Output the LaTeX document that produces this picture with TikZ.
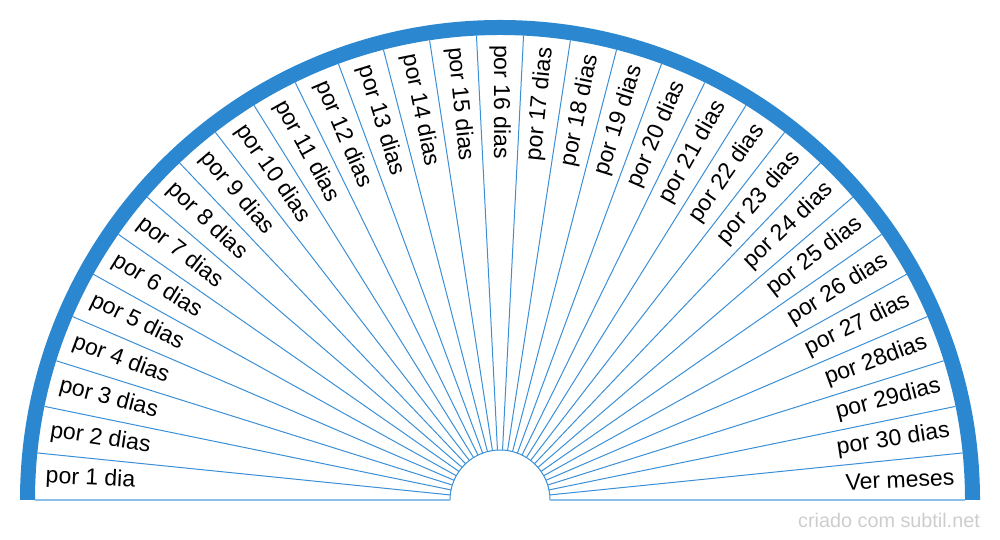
\documentclass[tikz,border=0pt]{standalone}
\usepackage{fontspec}
\setmainfont{Liberation Sans}
\usetikzlibrary{calc}
\definecolor{bandblue}{RGB}{43,136,208}
\definecolor{rayblue}{RGB}{58,143,214}
\definecolor{baseblue}{RGB}{140,192,234}
\definecolor{markgray}{RGB}{205,205,205}

\begin{document}
\begin{tikzpicture}[x=1pt, y=1pt,
  band/.style={fill=bandblue},
  ray/.style={draw=rayblue, line width=1pt},
  base/.style={draw=baseblue, line width=2pt},
  lbl/.style={font=\fontsize{23}{26}\selectfont, text=black, inner sep=0pt},
  lblL/.style={lbl, anchor=west},
  lblR/.style={lbl, anchor=east},
  credittext/.style={font=\fontsize{19.8}{23}\selectfont, text=markgray, anchor=east, inner sep=0pt},
]
  \useasboundingbox (0,0) rectangle (1000,540);
  \coordinate (c) at (500,40);

  % outer band
  \fill[band] ($(c)+(-480,0)$) arc[start angle=180, end angle=0, radius=480]
    -- ++(-15,0) arc[start angle=0, end angle=180, radius=465] -- cycle;

  % rays and hub
  \foreach \k in {1,...,30}
    \draw[ray] ($(c)+(\k*180/31:50)$) -- ($(c)+(\k*180/31:465)$);
  \draw[ray] ($(c)+(50,0)$) arc[start angle=0, end angle=180, radius=50];
  \draw[base] ($(c)+(-465,0)$) -- ($(c)+(-50,0)$);
  \draw[base] ($(c)+(50,0)$) -- ($(c)+(465,0)$);

  \node[lblL, rotate=-2.90] (d1) at ($(c)+(177.10:455)$) {por 1 dia};
  \node[lblL, rotate=-8.71] (d2) at ($(c)+(171.29:455)$) {por 2 dias};
  \node[lblL, rotate=-14.52] (d3) at ($(c)+(165.48:455)$) {por 3 dias};
  \node[lblL, rotate=-20.32] (d4) at ($(c)+(159.68:455)$) {por 4 dias};
  \node[lblL, rotate=-26.13] (d5) at ($(c)+(153.87:455)$) {por 5 dias};
  \node[lblL, rotate=-31.94] (d6) at ($(c)+(148.06:455)$) {por 6 dias};
  \node[lblL, rotate=-37.74] (d7) at ($(c)+(142.26:455)$) {por 7 dias};
  \node[lblL, rotate=-43.55] (d8) at ($(c)+(136.45:455)$) {por 8 dias};
  \node[lblL, rotate=-49.35] (d9) at ($(c)+(130.65:455)$) {por 9 dias};
  \node[lblL, rotate=-55.16] (d10) at ($(c)+(124.84:455)$) {por 10 dias};
  \node[lblL, rotate=-60.97] (d11) at ($(c)+(119.03:455)$) {por 11 dias};
  \node[lblL, rotate=-66.77] (d12) at ($(c)+(113.23:455)$) {por 12 dias};
  \node[lblL, rotate=-72.58] (d13) at ($(c)+(107.42:455)$) {por 13 dias};
  \node[lblL, rotate=-78.39] (d14) at ($(c)+(101.61:455)$) {por 14 dias};
  \node[lblL, rotate=-84.19] (d15) at ($(c)+(95.81:455)$) {por 15 dias};
  \node[lblL, rotate=-90] (d16) at ($(c)+(90:455)$) {por 16 dias};
  \node[lblR, rotate=84.19] (d17) at ($(c)+(84.19:455)$) {por 17 dias};
  \node[lblR, rotate=78.39] (d18) at ($(c)+(78.39:455)$) {por 18 dias};
  \node[lblR, rotate=72.58] (d19) at ($(c)+(72.58:455)$) {por 19 dias};
  \node[lblR, rotate=66.77] (d20) at ($(c)+(66.77:455)$) {por 20 dias};
  \node[lblR, rotate=60.97] (d21) at ($(c)+(60.97:455)$) {por 21 dias};
  \node[lblR, rotate=55.16] (d22) at ($(c)+(55.16:455)$) {por 22 dias};
  \node[lblR, rotate=49.35] (d23) at ($(c)+(49.35:455)$) {por 23 dias};
  \node[lblR, rotate=43.55] (d24) at ($(c)+(43.55:455)$) {por 24 dias};
  \node[lblR, rotate=37.74] (d25) at ($(c)+(37.74:455)$) {por 25 dias};
  \node[lblR, rotate=31.94] (d26) at ($(c)+(31.94:455)$) {por 26 dias};
  \node[lblR, rotate=26.13] (d27) at ($(c)+(26.13:455)$) {por 27 dias};
  \node[lblR, rotate=20.32] (d28) at ($(c)+(20.32:455)$) {por 28dias};
  \node[lblR, rotate=14.52] (d29) at ($(c)+(14.52:455)$) {por 29dias};
  \node[lblR, rotate=8.71] (d30) at ($(c)+(8.71:455)$) {por 30 dias};
  \node[lblR, rotate=2.90] (meses) at ($(c)+(2.90:455)$) {Ver meses};

  \node[credittext] (credit) at (980,20) {criado com subtil.net};
\end{tikzpicture}
\end{document}
